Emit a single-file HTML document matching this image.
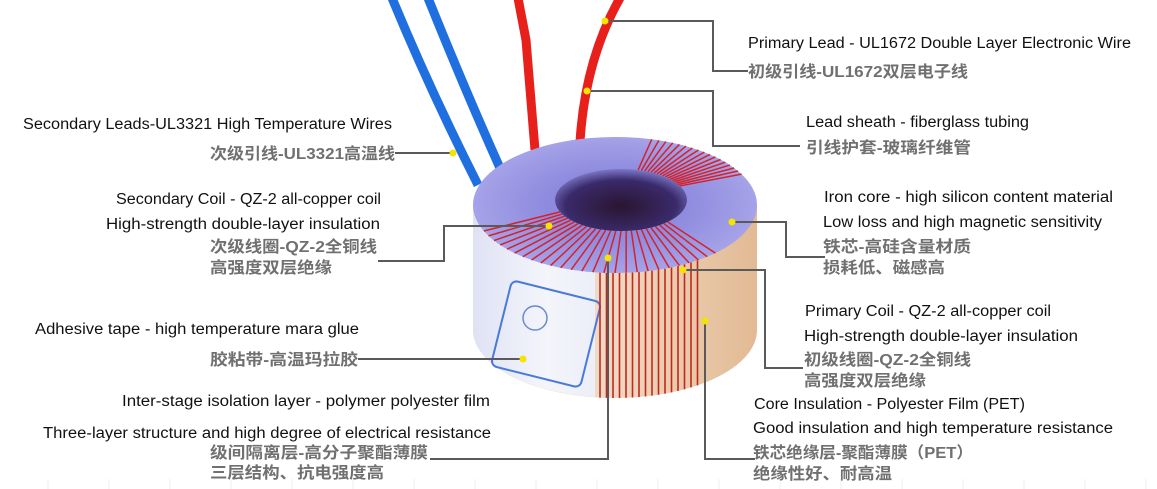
<!DOCTYPE html>
<html><head><meta charset="utf-8"><style>
html,body{margin:0;padding:0;background:#fff;}
svg{display:block;}
.en{font-family:"Liberation Sans",sans-serif;font-size:15.5px;fill:#111;}
.zh{font-family:"Liberation Sans","Noto Sans CJK SC",sans-serif;font-size:16px;fill:#707070;font-weight:bold;}
.ln{stroke:#5a5a5a;stroke-width:2;fill:none;}
.dot{fill:#f4e400;}
</style></head><body>
<svg id="s" width="1157" height="489" viewBox="0 0 1157 489" xmlns="http://www.w3.org/2000/svg">
<defs>
<linearGradient id="tan" x1="0" x2="1" y1="0" y2="0">
<stop offset="0" stop-color="#f1e6de"/><stop offset="0.5" stop-color="#efd8c2"/><stop offset="1" stop-color="#e2ba94"/>
</linearGradient>
<linearGradient id="paper" x1="0" x2="1" y1="0" y2="0">
<stop offset="0" stop-color="#dfe2f4"/><stop offset="0.6" stop-color="#f4f5fb"/><stop offset="1" stop-color="#eceef8"/>
</linearGradient>
<radialGradient id="top" cx="0.5" cy="0.5" r="0.6">
<stop offset="0.4" stop-color="#8e8ade"/><stop offset="1" stop-color="#aeacec"/>
</radialGradient>
<radialGradient id="hole" cx="0.5" cy="0.6" r="0.6">
<stop offset="0" stop-color="#2a1530"/><stop offset="0.7" stop-color="#3a2a6a"/><stop offset="1" stop-color="#7c78c8"/>
</radialGradient>
</defs>
<g stroke="#efefef" stroke-width="1">
<line x1="48" y1="479" x2="48" y2="489"/><line x1="109" y1="479" x2="109" y2="489"/><line x1="170" y1="479" x2="170" y2="489"/><line x1="231" y1="479" x2="231" y2="489"/><line x1="292" y1="479" x2="292" y2="489"/><line x1="353" y1="479" x2="353" y2="489"/><line x1="414" y1="479" x2="414" y2="489"/><line x1="475" y1="479" x2="475" y2="489"/><line x1="536" y1="479" x2="536" y2="489"/><line x1="597" y1="479" x2="597" y2="489"/><line x1="658" y1="479" x2="658" y2="489"/><line x1="719" y1="479" x2="719" y2="489"/><line x1="780" y1="479" x2="780" y2="489"/><line x1="841" y1="479" x2="841" y2="489"/><line x1="902" y1="479" x2="902" y2="489"/><line x1="963" y1="479" x2="963" y2="489"/><line x1="1024" y1="479" x2="1024" y2="489"/><line x1="1085" y1="479" x2="1085" y2="489"/><line x1="1146" y1="479" x2="1146" y2="489"/>
</g>
<path d="M392 -2 Q430 90 478 185" stroke="#1f6fe0" stroke-width="9" fill="none"/>
<path d="M428 -2 Q465 90 500 168" stroke="#1f6fe0" stroke-width="9" fill="none"/>
<path d="M518 -2 L526 40 L535 150" stroke="#e8201c" stroke-width="9" fill="none"/>
<path d="M620 -2 Q585 60 580 142" stroke="#e8201c" stroke-width="9" fill="none"/>
<path d="M473 205 L473 330 A142 68 0 0 0 757 330 L757 205 Z" fill="url(#tan)"/>
<path d="M473 205 L473 330 A142 68 0 0 0 595 397 L595 270 A142 68 0 0 1 473 205 Z" fill="url(#paper)"/>
<rect x="500" y="290" width="92" height="88" rx="6" fill="none" stroke="#4a7ad8" stroke-width="2" transform="rotate(14 546 334)"/>
<circle cx="535" cy="318" r="12" fill="none" stroke="#6a8ad0" stroke-width="1.5"/>
<g id="vert" stroke="#c4281c" stroke-width="1.6"></g>
<ellipse cx="615" cy="205" rx="142" ry="68" fill="url(#top)"/>
<g id="rad" stroke="#d4222a" stroke-width="1.5"></g>
<ellipse cx="621" cy="200" rx="66" ry="31" fill="url(#hole)"/>
<polyline class="ln" points="605,21 713,21 713,71 748,71"/>
<polyline class="ln" points="587,91 713,91 713,146 800,146"/>
<polyline class="ln" points="395,153 453,153"/>
<polyline class="ln" points="549,226 444,226 444,261 378,261"/>
<polyline class="ln" points="732,222 786,222 786,257 825,257"/>
<polyline class="ln" points="683,270 765,270 765,368 803,368"/>
<polyline class="ln" points="705,321 705,459 755,459"/>
<polyline class="ln" points="358,359 523,359"/>
<polyline class="ln" points="608,258 608,459 430,459"/>
<circle class="dot" cx="605" cy="21" r="3.5"/><circle class="dot" cx="587" cy="91" r="3.5"/><circle class="dot" cx="453" cy="153" r="3.5"/><circle class="dot" cx="549" cy="226" r="3.5"/><circle class="dot" cx="732" cy="222" r="3.5"/><circle class="dot" cx="683" cy="270" r="3.5"/><circle class="dot" cx="705" cy="321" r="3.5"/><circle class="dot" cx="523" cy="359" r="3.5"/><circle class="dot" cx="608" cy="258" r="3.5"/>
<text class="en" x="748" y="48" textLength="383" lengthAdjust="spacingAndGlyphs">Primary Lead - UL1672 Double Layer Electronic Wire</text>
<text class="zh" x="748" y="77" textLength="220" lengthAdjust="spacingAndGlyphs">初级引线-UL1672双层电子线</text>
<text class="en" x="806" y="127" textLength="223" lengthAdjust="spacingAndGlyphs">Lead sheath - fiberglass tubing</text>
<text class="zh" x="806" y="153" textLength="165" lengthAdjust="spacingAndGlyphs">引线护套-玻璃纤维管</text>
<text class="en" x="23" y="129" textLength="369" lengthAdjust="spacingAndGlyphs">Secondary Leads-UL3321 High Temperature Wires</text>
<text class="zh" x="210" y="159" textLength="185" lengthAdjust="spacingAndGlyphs">次级引线-UL3321高温线</text>
<text class="en" x="116" y="204" textLength="265" lengthAdjust="spacingAndGlyphs">Secondary Coil - QZ-2 all-copper coil</text>
<text class="en" x="106" y="229" textLength="274" lengthAdjust="spacingAndGlyphs">High-strength double-layer insulation</text>
<text class="zh" x="210" y="252" textLength="167" lengthAdjust="spacingAndGlyphs">次级线圈-QZ-2全铜线</text>
<text class="zh" x="210" y="273" textLength="122" lengthAdjust="spacingAndGlyphs">高强度双层绝缘</text>
<text class="en" x="35" y="334" textLength="324" lengthAdjust="spacingAndGlyphs">Adhesive tape - high temperature mara glue</text>
<text class="zh" x="210" y="365" textLength="148" lengthAdjust="spacingAndGlyphs">胶粘带-高温玛拉胶</text>
<text class="en" x="122" y="406" textLength="368" lengthAdjust="spacingAndGlyphs">Inter-stage isolation layer - polymer polyester film</text>
<text class="en" x="43" y="438" textLength="448" lengthAdjust="spacingAndGlyphs">Three-layer structure and high degree of electrical resistance</text>
<text class="zh" x="210" y="458" textLength="218" lengthAdjust="spacingAndGlyphs">级间隔离层-高分子聚酯薄膜</text>
<text class="zh" x="210" y="478" textLength="174" lengthAdjust="spacingAndGlyphs">三层结构、抗电强度高</text>
<text class="en" x="824" y="202" textLength="289" lengthAdjust="spacingAndGlyphs">Iron core - high silicon content material</text>
<text class="en" x="823" y="227" textLength="279" lengthAdjust="spacingAndGlyphs">Low loss and high magnetic sensitivity</text>
<text class="zh" x="823" y="252" textLength="148" lengthAdjust="spacingAndGlyphs">铁芯-高硅含量材质</text>
<text class="zh" x="823" y="273" textLength="122" lengthAdjust="spacingAndGlyphs">损耗低、磁感高</text>
<text class="en" x="805" y="316" textLength="246" lengthAdjust="spacingAndGlyphs">Primary Coil - QZ-2 all-copper coil</text>
<text class="en" x="804" y="341" textLength="274" lengthAdjust="spacingAndGlyphs">High-strength double-layer insulation</text>
<text class="zh" x="804" y="365" textLength="167" lengthAdjust="spacingAndGlyphs">初级线圈-QZ-2全铜线</text>
<text class="zh" x="804" y="386" textLength="122" lengthAdjust="spacingAndGlyphs">高强度双层绝缘</text>
<text class="en" x="754" y="409" textLength="271" lengthAdjust="spacingAndGlyphs">Core Insulation - Polyester Film (PET)</text>
<text class="en" x="753" y="433" textLength="360" lengthAdjust="spacingAndGlyphs">Good insulation and high temperature resistance</text>
<text class="zh" x="753" y="458" textLength="220" lengthAdjust="spacingAndGlyphs">铁芯绝缘层-聚酯薄膜（PET）</text>
<text class="zh" x="753" y="479" textLength="139" lengthAdjust="spacingAndGlyphs">绝缘性好、耐高温</text>
</svg>
<script>
var NS="http://www.w3.org/2000/svg";
var v=document.getElementById("vert");
for(var x=600;x<=700;x+=6.5){var d=(x-615)/142;var k=Math.sqrt(1-d*d);
var l=document.createElementNS(NS,"line");l.setAttribute("x1",x);l.setAttribute("x2",x);
l.setAttribute("y1",205+68*k);l.setAttribute("y2",330+68*k);v.appendChild(l);}
var r=document.getElementById("rad");
function rad(a){var t=a*Math.PI/180;var l=document.createElementNS(NS,"line");
l.setAttribute("x1",621+66*Math.cos(t));l.setAttribute("y1",200+31*Math.sin(t));
l.setAttribute("x2",615+142*Math.cos(t));l.setAttribute("y2",205+68*Math.sin(t));r.appendChild(l);}
for(var a=45;a<=160;a+=4.5)rad(a);
for(var a=-75;a<=-25;a+=3)rad(a);
</script>
</body></html>
